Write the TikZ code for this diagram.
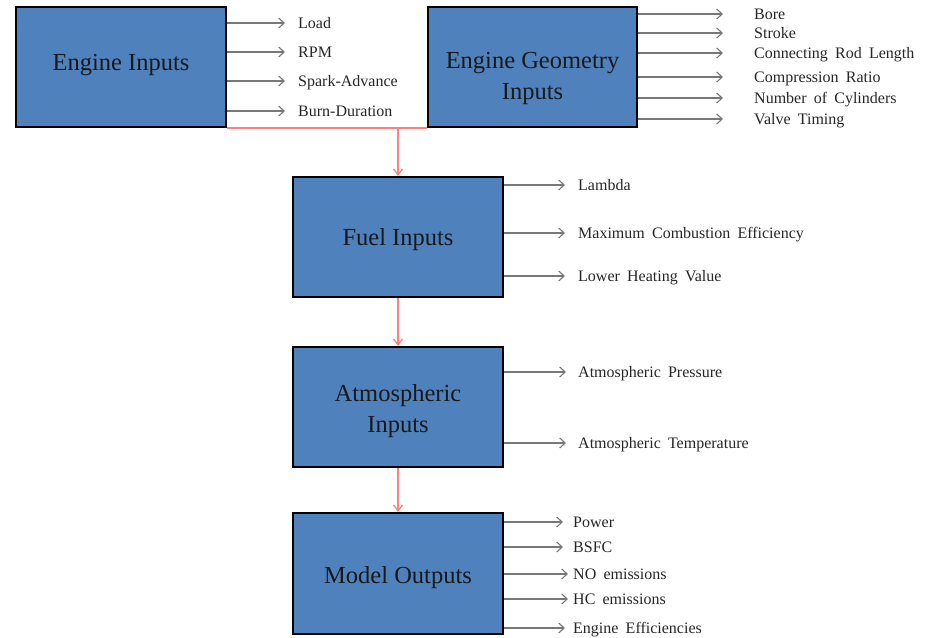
\documentclass[tikz,border=0pt]{standalone}
\usepackage{fontspec}
\setmainfont{Liberation Serif}
\newfontfamily\itemfont{Liberation Serif}[WordSpace=1.8]
\usetikzlibrary{arrows.meta}
\definecolor{boxblue}{HTML}{4F81BD}
\definecolor{flowred}{HTML}{FF8080}
\definecolor{leadgray}{HTML}{787878}
\begin{document}
\begin{tikzpicture}[x=1pt,y=-1pt,
  block/.style={draw=black, line width=2pt, fill=boxblue, minimum width=210pt,
    minimum height=120pt, inner sep=0pt},
  title/.style={inner sep=0pt, align=center,
    font=\fontsize{24.5}{31}\selectfont, text=black!90},
  item/.style={anchor=west, inner sep=0pt, font=\itemfont\fontsize{16}{19}\selectfont,
    text=black!85, text height=11pt, text depth=1pt},
  lead/.style={draw=leadgray, line width=1.1pt, -{Straight Barb[length=5.5pt,width=10pt]}},
  flow/.style={draw=flowred, line width=1.3pt, -{Straight Barb[length=6pt,width=9pt]}},
]
\useasboundingbox (0,0) rectangle (928,637);

% main blocks
\node[block] (ei)   at (121,67)    {};
\node[block, minimum width=209pt] (eg) at (532.5,67) {};
\node[block] (fuel) at (398,237)   {};
\node[block] (atm)  at (398,407)   {};
\node[block, minimum height=121pt] (out) at (398,573.5) {};

% block titles
\node[title] (ei-t)   at (121,65)    {Engine Inputs};
\node[title] (eg-t)   at (532.5,78)  {Engine Geometry\\Inputs};
\node[title] (fuel-t) at (398,240)   {Fuel Inputs};
\node[title] (atm-t)  at (398,411)   {Atmospheric\\Inputs};
\node[title] (out-t)  at (398,577.5) {Model Outputs};

% flow between the blocks
\coordinate (join) at (fuel.north |- ei.south);
\draw[draw=flowred, line width=1.3pt] (ei.south east) -- (eg.south west);
\draw[flow] (join) -- (fuel.north);
\draw[flow] (fuel.south) -- (atm.north);
\draw[flow] (atm.south) -- (out.north);

% engine inputs
\foreach \n/\y/\t in {a/23/Load, b/52/RPM, c/81/Spark-Advance, d/111/Burn-Duration}{
  \node[item] (ei-\n) at (298,\y) {\t};
  \draw[lead] (ei.east |- ei-\n.west) -- ([xshift=-13pt]ei-\n.west);
}

% engine geometry inputs
\foreach \n/\y/\t in {a/14/Bore, b/33/Stroke, c/53/Connecting Rod Length,
    d/77/Compression Ratio, e/98/Number of Cylinders, f/119/Valve Timing}{
  \node[item] (eg-\n) at (754,\y) {\t};
  \draw[lead] (eg.east |- eg-\n.west) -- ([xshift=-31pt]eg-\n.west);
}

% fuel inputs
\foreach \n/\y/\t in {a/185/Lambda, b/233/Maximum Combustion Efficiency, c/276/Lower Heating Value}{
  \node[item] (fu-\n) at (578,\y) {\t};
  \draw[lead] (fuel.east |- fu-\n.west) -- ([xshift=-13pt]fu-\n.west);
}

% atmospheric inputs
\foreach \n/\y/\t in {a/372/Atmospheric Pressure, b/443/Atmospheric Temperature}{
  \node[item] (at-\n) at (578,\y) {\t};
  \draw[lead] (atm.east |- at-\n.west) -- ([xshift=-12pt]at-\n.west);
}

% model outputs
\foreach \n/\y/\t/\g in {a/522/Power/10, b/547/BSFC/10, c/574/NO emissions/5,
    d/599/HC emissions/5, e/628/Engine Efficiencies/8}{
  \node[item] (mo-\n) at (573,\y) {\t};
  \draw[lead] (out.east |- mo-\n.west) -- ([xshift=-\g pt]mo-\n.west);
}
\end{tikzpicture}
\end{document}
